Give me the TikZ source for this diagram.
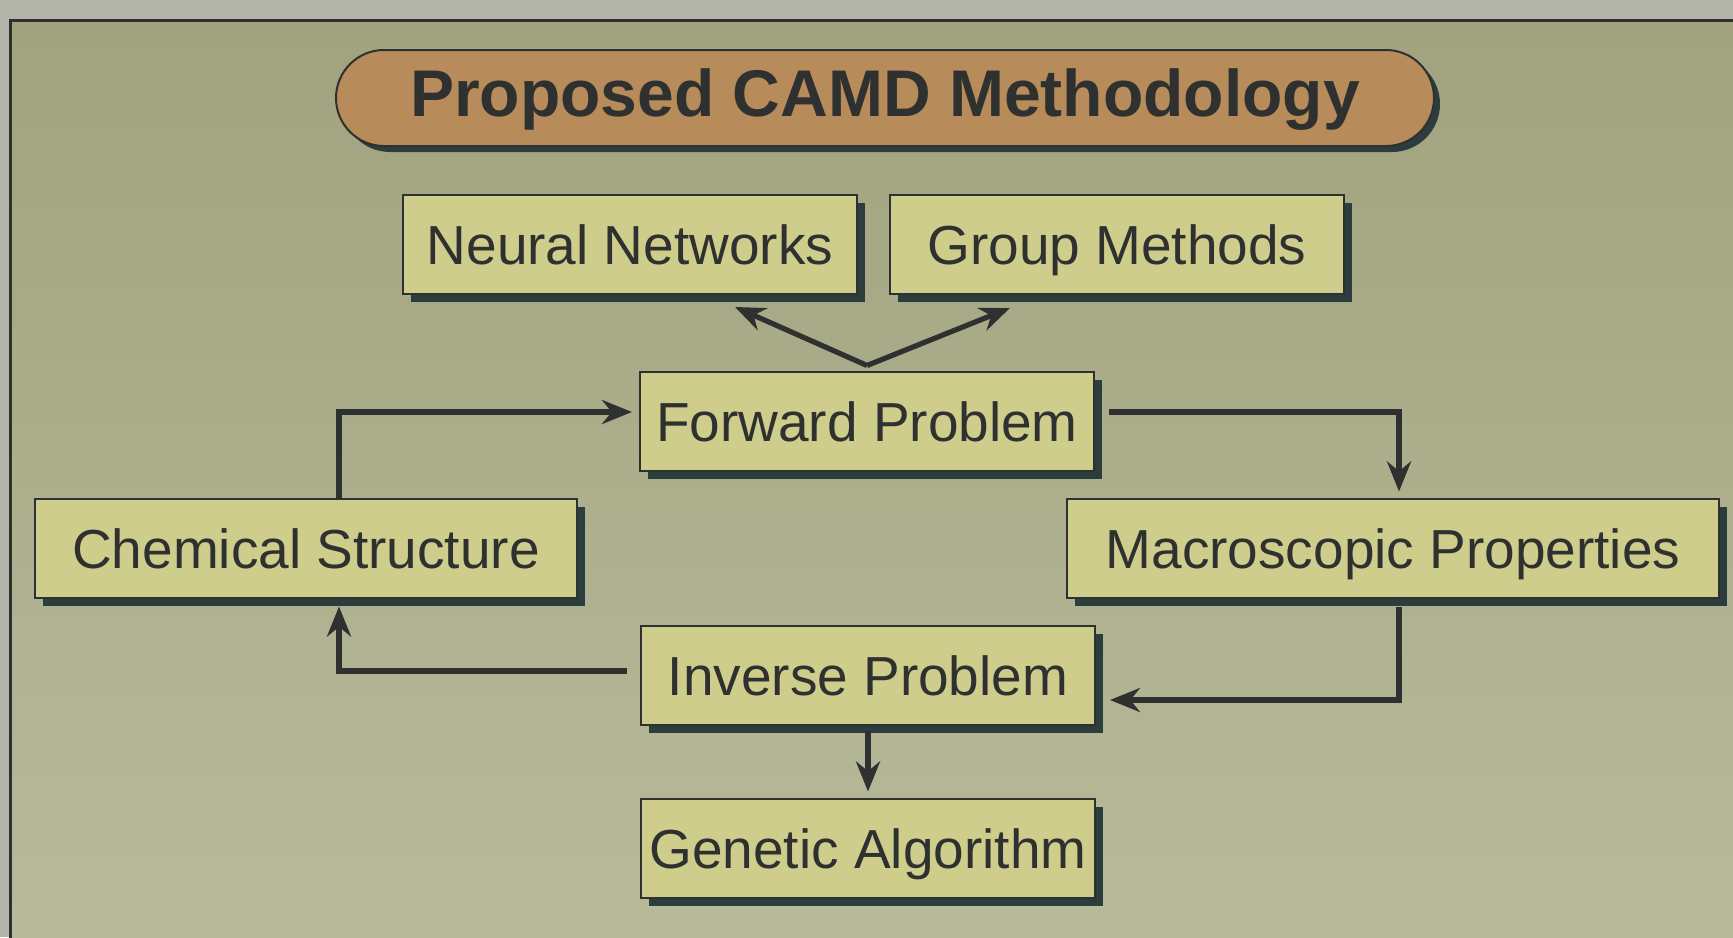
\documentclass[tikz,border=0pt]{standalone}
\usepackage{fontspec}
\setmainfont{Liberation Sans}
\usetikzlibrary{arrows.meta,shadows}

\definecolor{paper}{HTML}{B3B5AB}
\definecolor{panelTop}{HTML}{A1A27E}
\definecolor{panelBot}{HTML}{B8BB9B}
\definecolor{boxFill}{HTML}{CFCD8C}
\definecolor{pillFill}{HTML}{B88B5A}
\definecolor{shade}{HTML}{2C3D3E}
\definecolor{ink}{HTML}{2E3130}

\begin{document}
\begin{tikzpicture}[
      x=0.5pt, y=-0.5pt,
      box/.style = {rectangle, draw=ink, line width=1pt, fill=boxFill,
                    minimum width=227pt, minimum height=49.5pt, inner sep=0pt,
                    text height=20.5pt, text depth=0pt,
                    font=\fontsize{27.5}{33}\selectfont, text=ink,
                    drop shadow={shadow xshift=4pt, shadow yshift=-4pt, fill=shade, opacity=1}},
      pill/.style = {rectangle, rounded corners=24pt, draw=ink, line width=1pt, fill=pillFill,
                     minimum width=549pt, minimum height=48pt, inner sep=0pt,
                     text height=18pt, text depth=0pt,
                     font=\bfseries\fontsize{33}{40}\selectfont, text=ink,
                     drop shadow={shadow xshift=3pt, shadow yshift=-3pt, fill=shade, opacity=1}},
      conn/.style = {draw=ink, line width=2.6pt},
      >={Stealth[length=15pt,width=12pt]}
    ]
    % page and panel
    \fill[paper] (0,0) rectangle (1733,937);
    \useasboundingbox (0,0) rectangle (1733,937);
    \shade[top color=panelTop, bottom color=panelBot] (10,20) rectangle (1760,960);
    \draw[ink, line width=1.5pt] (1760,20) -- (10,20) -- (10,960);

    % title
    \node[pill] (title) at (885,98) {Proposed CAMD Methodology};

    % boxes
    \node[box] (nn)    at (630,244)  {Neural Networks};
    \node[box] (gm)    at (1117,244) {Group Methods};
    \node[box] (fwd)   at (867,421)  {Forward Problem};
    \node[box, minimum width=271pt] (chem)  at (306,548)  {Chemical Structure};
    \node[box, minimum width=326pt] (macro) at (1393,548) {Macroscopic Properties};
    \node[box] (inv)   at (868,675)  {Inverse Problem};
    \node[box] (gen)   at (868,848)  {Genetic Algorithm};

    % fork above the forward problem
    \coordinate (fork)   at ([yshift=2.5pt]fwd.north);
    \coordinate (nntip)  at (735,307);
    \coordinate (gmtip)  at (1010,308);
    \draw[conn,->] (fork) -- (nntip);
    \draw[conn,->] (fork) -- (gmtip);

    % loop
    \draw[conn,->] ([xshift=16.5pt]chem.north) |- ([xshift=-3.5pt,yshift=4.5pt]fwd.west);
    \draw[conn,->] ([xshift=7pt,yshift=4.5pt]fwd.east) -| ([xshift=3pt,yshift=3pt]macro.north);
    \draw[conn,->] ([xshift=3pt,yshift=-4pt]macro.south) |- ([xshift=7pt,yshift=-12.5pt]inv.east);
    \draw[conn,->] ([xshift=-6.5pt,yshift=2pt]inv.west) -| ([xshift=16.5pt,yshift=-4pt]chem.south);
    \draw[conn,->] ([yshift=-2.5pt]inv.south) -- ([yshift=3pt]gen.north);
  \end{tikzpicture}
\end{document}
